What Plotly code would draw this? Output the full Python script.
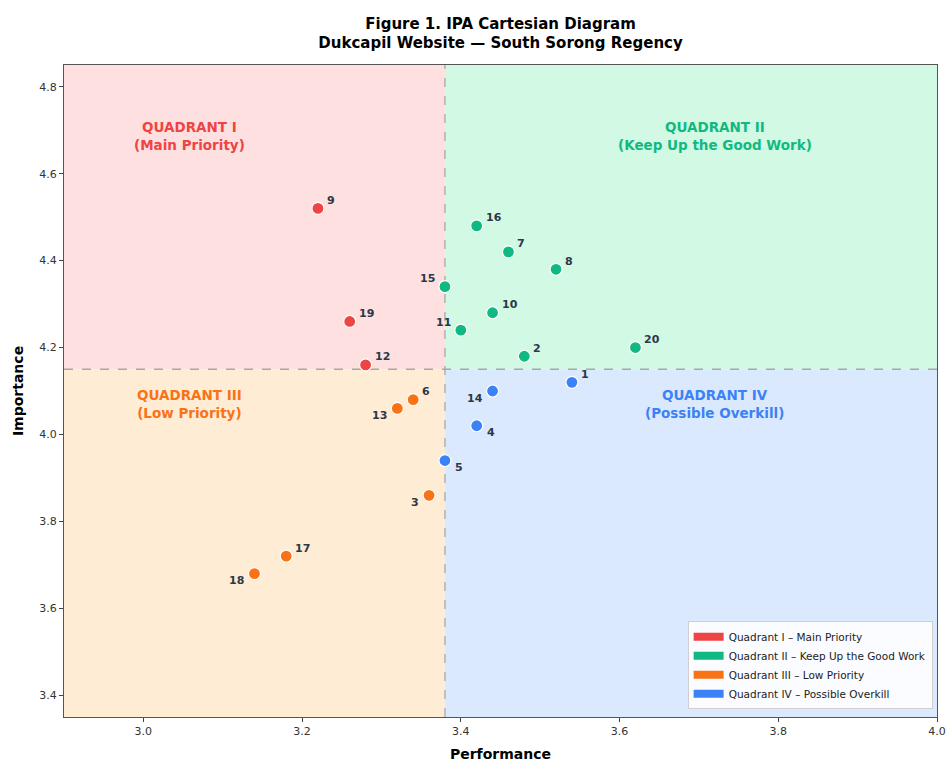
import plotly.graph_objects as go

# ---- data ----
ids = [1, 2, 3, 4, 5, 6, 7, 8, 9, 10, 11, 12, 13, 14, 15, 16, 17, 18, 19, 20]
performance = [3.54, 3.48, 3.36, 3.42, 3.38, 3.34, 3.46, 3.52, 3.22, 3.44,
               3.40, 3.28, 3.32, 3.44, 3.38, 3.42, 3.18, 3.14, 3.26, 3.62]
importance = [4.12, 4.18, 3.86, 4.02, 3.94, 4.08, 4.42, 4.38, 4.52, 4.28,
              4.24, 4.16, 4.06, 4.10, 4.34, 4.48, 3.72, 3.68, 4.26, 4.20]
quadrant_of = [4, 2, 3, 4, 4, 3, 2, 2, 1, 2, 2, 1, 3, 4, 2, 2, 3, 3, 1, 2]
label_pos = ["ur", "ur", "ll", "lr", "lr", "ur", "ur", "ur", "ur", "ur",
             "ul", "ur", "ll", "ll", "ul", "ur", "ur", "ll", "ur", "ur"]
x_mean = 3.38
y_mean = 4.15
x_range = [2.9, 4.0]
y_range = [3.35, 4.85]
x_ticks = [3.0, 3.2, 3.4, 3.6, 3.8, 4.0]
y_ticks = [3.4, 3.6, 3.8, 4.0, 4.2, 4.4, 4.6, 4.8]

quad_names = ["Quadrant I – Main Priority", "Quadrant II – Keep Up the Good Work",
              "Quadrant III – Low Priority", "Quadrant IV – Possible Overkill"]
quad_titles = ["QUADRANT I<br>(Main Priority)", "QUADRANT II<br>(Keep Up the Good Work)",
               "QUADRANT III<br>(Low Priority)", "QUADRANT IV<br>(Possible Overkill)"]
quad_label_x = [3.058, 3.72, 3.058, 3.72]
quad_label_y = [4.687, 4.687, 4.069, 4.069]
quad_colors = ["#ef4444", "#10b981", "#f97316", "#3b82f6"]
quad_bg = ["#fee0e0", "#d1f9e4", "#ffecd5", "#dbe9fe"]

FONT = "DejaVu Sans"
TXT = "#2d3748"

fig = go.Figure()

# background quadrants
bounds = [
    (x_range[0], x_mean, y_mean, y_range[1]),
    (x_mean, x_range[1], y_mean, y_range[1]),
    (x_range[0], x_mean, y_range[0], y_mean),
    (x_mean, x_range[1], y_range[0], y_mean),
]
for (x0, x1, y0, y1), c in zip(bounds, quad_bg):
    fig.add_shape(type="rect", xref="x", yref="y", x0=x0, x1=x1, y0=y0, y1=y1,
                  fillcolor=c, line=dict(width=0), layer="below")

# mean lines (drawn as traces beneath markers)
fig.add_trace(go.Scatter(x=[x_mean, x_mean], y=y_range, mode="lines", showlegend=False,
                         hoverinfo="skip", line=dict(color="#a8a8a8", width=1.3, dash="dash")))
fig.add_trace(go.Scatter(x=x_range, y=[y_mean, y_mean], mode="lines", showlegend=False,
                         hoverinfo="skip", line=dict(color="#a8a8a8", width=1.3, dash="dash")))

# points per quadrant
for q in range(4):
    idx = [i for i in range(len(ids)) if quadrant_of[i] == q + 1]
    fig.add_trace(go.Scatter(
        x=[performance[i] for i in idx], y=[importance[i] for i in idx],
        mode="markers", showlegend=False, hoverinfo="skip",
        marker=dict(size=12, color=quad_colors[q], line=dict(color="white", width=1.2)),
    ))

# legend entries (rectangle swatches)
for q in range(4):
    fig.add_trace(go.Scatter(
        x=[None], y=[None], mode="lines", name=quad_names[q],
        line=dict(color=quad_colors[q], width=8),
    ))

# point labels
offs = {"ur": ("left", 7, 8), "ul": ("right", -8, 8), "ll": ("right", -8, -7), "lr": ("left", 8, -7)}
for i, (x, y) in enumerate(zip(performance, importance)):
    anchor, dx, dy = offs[label_pos[i]]
    fig.add_annotation(x=x, y=y, text=f"<b>{ids[i]}</b>", showarrow=False,
                       xanchor=anchor, yanchor="middle", xshift=dx, yshift=dy,
                       font=dict(family=FONT, size=11, color=TXT))

# quadrant titles
for q in range(4):
    fig.add_annotation(x=quad_label_x[q], y=quad_label_y[q], text=f"<b>{quad_titles[q]}</b>",
                       showarrow=False, xanchor="center", yanchor="middle",
                       font=dict(family=FONT, size=13.5, color=quad_colors[q]))

fig.update_layout(
    width=948, height=762,
    margin=dict(l=64, r=11, t=65, b=45, autoexpand=False),
    paper_bgcolor="white", plot_bgcolor="white",
    title=dict(text="<b>Figure 1. IPA Cartesian Diagram</b><br><b>Dukcapil Website — South Sorong Regency</b>",
               x=0.528, xanchor="center", y=0.9625, yanchor="middle",
               font=dict(family=FONT, size=15, color="black")),
    font=dict(family=FONT, size=11, color="#333333"),
    legend=dict(x=0.995, y=0.012, xanchor="right", yanchor="bottom",
                bgcolor="rgba(255,255,255,0.85)", bordercolor="#d0d0d0", borderwidth=1,
                font=dict(family=FONT, size=10.5, color="#222222"),
                itemwidth=30, tracegroupgap=0),
    xaxis=dict(range=x_range, tickvals=x_ticks, ticktext=[f"{v:.1f}" for v in x_ticks],
               showgrid=False, zeroline=False, ticks="outside", ticklen=4, tickcolor="#444",
               showline=True, mirror=True, linecolor="#555", linewidth=1.2, automargin=False,
               title=dict(text="<b>Performance</b>", font=dict(family=FONT, size=14, color="black"),
                          standoff=12)),
    yaxis=dict(range=y_range, tickvals=y_ticks, ticktext=[f"{v:.1f}" for v in y_ticks],
               showgrid=False, zeroline=False, ticks="outside", ticklen=4, tickcolor="#444",
               showline=True, mirror=True, linecolor="#555", linewidth=1.2, automargin=False,
               title=dict(text="<b>Importance</b>", font=dict(family=FONT, size=14, color="black"),
                          standoff=12)),
)

fig.write_html("out.html", config={"displayModeBar": False},
               post_script="document.body.style.margin='0';document.body.style.overflow='hidden';")
